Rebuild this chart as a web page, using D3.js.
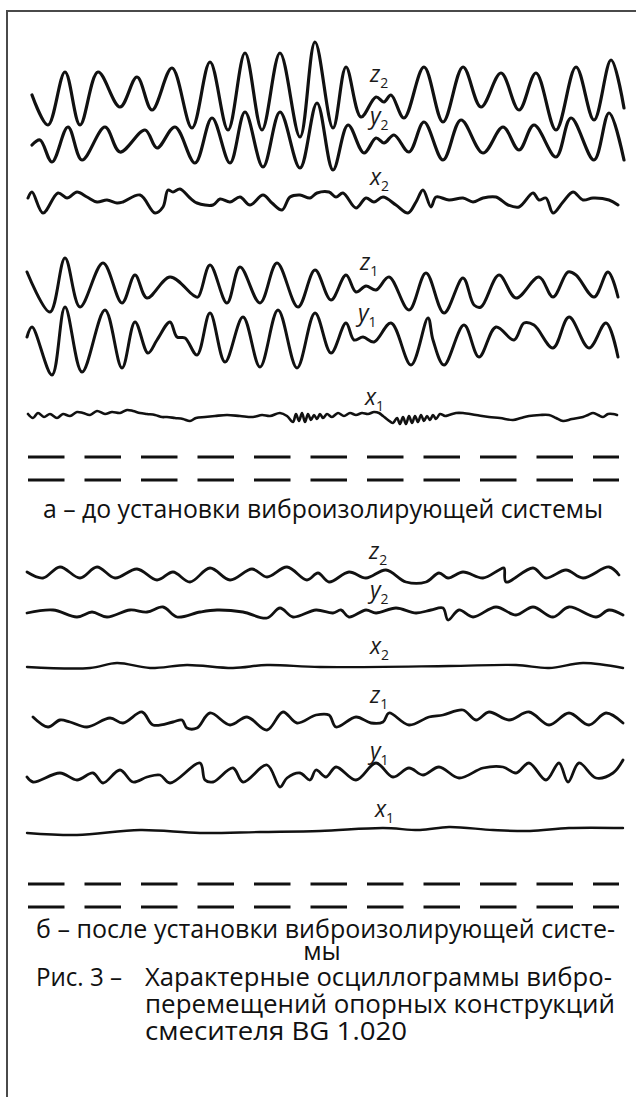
<!DOCTYPE html>
<html>
<head>
<meta charset="utf-8">
<script src="https://cdn.jsdelivr.net/npm/d3@7"></script>
<style>
  html, body { margin: 0; padding: 0; background: #fff; }
  svg { display: block; }
</style>
</head>
<body>
<div id="chart"></div>
<script>
// Oscillogram traces: [time, displacement] (arbitrary units)
// а - before vibration isolation
const z2Before = [[5,0],[21,-30],[38,23],[53,-30],[71,23],[93,-12],[110,18],[125,-15],[145,27],[165,-33],[183,33],[201,-35],[218,42],[235,-35],[253,42],[273,-42],[288,53],[306,-33],[319,28],[334,-22],[349,-2],[357,-7],[364,0],[377,-23],[397,28],[416,-27],[436,28],[454,-12],[474,22],[492,-15],[509,22],[529,-35],[549,28],[567,-25],[584,35],[597,-13]];
const y2Before = [[5,-5],[13,0],[25,-22],[41,13],[55,-20],[78,13],[93,-12],[118,10],[130,-8],[148,13],[168,-23],[185,22],[203,-23],[218,28],[236,-27],[253,28],[273,-28],[290,37],[306,-30],[321,15],[337,-13],[349,2],[357,-3],[367,5],[382,-12],[397,18],[416,-20],[434,20],[456,-13],[476,13],[492,-10],[507,15],[529,-17],[544,22],[567,-20],[582,27],[597,-20]];
const x2Before = [[1,2],[5,8],[16,-13],[31,7],[40,2],[50,8],[60,3],[70,-2],[80,0],[90,-3],[96,-2],[113,5],[128,-13],[136,-7],[141,10],[146,8],[153,11],[163,2],[170,-3],[186,-5],[193,1],[203,-2],[213,3],[223,-5],[236,5],[245,-3],[255,-10],[263,3],[273,5],[283,2],[290,7],[302,8],[309,3],[316,7],[329,-8],[339,2],[347,-2],[356,3],[369,-5],[381,-13],[389,-2],[396,10],[404,-7],[409,3],[422,0],[436,2],[446,-2],[456,2],[469,3],[481,-5],[492,-7],[506,7],[512,0],[519,2],[526,-13],[536,-2],[546,8],[556,0],[566,2],[582,0],[591,-5]];
const z1Before = [[0,13],[23,-27],[38,27],[53,-22],[76,22],[95,-18],[108,10],[120,-13],[143,8],[166,-10],[171,-12],[183,20],[200,-18],[213,18],[233,-18],[250,22],[271,-22],[288,15],[304,-15],[319,10],[329,-7],[339,-1],[349,-5],[362,8],[382,-25],[399,12],[417,-28],[436,7],[447,-20],[454,-22],[472,10],[489,-13],[512,8],[526,-12],[541,13],[549,10],[567,-12],[581,13],[591,-12]];
const y1Before = [[0,3],[5,13],[25,-35],[38,33],[55,-32],[78,30],[95,-28],[108,18],[121,-13],[130,0],[143,18],[150,3],[158,2],[170,-15],[183,27],[198,-22],[216,23],[233,-27],[251,30],[270,-28],[288,27],[304,-13],[319,17],[327,0],[336,3],[347,-2],[364,17],[384,-25],[401,22],[406,0],[417,-25],[437,15],[452,-17],[469,13],[487,0],[497,17],[507,15],[526,-8],[542,23],[562,-8],[579,17],[591,-17]];
const x1Before = [[1,2],[6,-2],[11,3],[17,-1],[23,2],[30,-2],[36,2],[43,0],[50,4],[56,3],[63,1],[70,5],[78,2],[85,4],[93,3],[100,6],[106,5],[113,3],[120,2],[128,1],[135,-1],[140,-1],[148,-2],[156,-3],[163,-5],[169,-2],[178,-1],[188,0],[200,1],[213,0],[226,-1],[235,1],[243,0],[253,3],[260,0],[266,-6],[269,2],[272,-5],[275,3],[278,-6],[281,2],[284,-4],[287,1],[290,-3],[293,2],[296,-2],[300,2],[305,-1],[311,3],[317,0],[323,3],[329,1],[335,3],[341,2],[347,4],[352,3],[356,0],[361,-4],[366,-7],[370,-2],[373,-8],[376,-1],[379,-8],[382,0],[385,-7],[388,0],[391,-6],[394,1],[397,-5],[400,0],[403,-4],[406,1],[409,-3],[413,2],[418,0],[422,1],[429,3],[436,3],[449,1],[462,-1],[473,-2],[486,-4],[494,-2],[502,0],[513,1],[522,1],[529,-2],[536,-5],[545,-3],[556,-1],[561,1],[566,3],[571,1],[576,-1],[581,2],[586,2],[590,1]];

// б - after vibration isolation
const z2After = [[0,3],[16,-3],[33,8],[53,-3],[70,8],[88,-3],[110,6],[130,-5],[146,3],[163,-7],[183,7],[203,-5],[225,6],[240,-2],[260,8],[280,-5],[291,2],[302,-7],[322,3],[339,-3],[359,5],[379,-7],[399,-7],[412,2],[421,-3],[436,3],[456,-3],[472,5],[477,7],[479,-7],[506,7],[519,-3],[539,5],[556,-3],[582,8],[592,0]];
const y2After = [[0,-1],[26,2],[50,-5],[65,0],[80,-5],[103,2],[120,0],[136,5],[150,-5],[173,0],[190,2],[216,0],[240,-6],[253,4],[266,-5],[289,2],[306,-1],[314,2],[322,-5],[339,2],[349,-1],[369,4],[389,-1],[404,2],[416,4],[421,-8],[432,2],[446,-5],[469,5],[489,-3],[506,5],[526,-5],[542,5],[569,-5],[582,2],[596,-3]];
const x2After = [[0,-1],[63,-2],[90,3],[123,-2],[160,1],[206,-2],[240,1],[293,-1],[422,0],[489,1],[522,-2],[556,3],[596,-2]];
const z1After = [[6,2],[21,-8],[33,-1],[43,-3],[60,-8],[83,1],[96,-4],[115,7],[126,-6],[146,-3],[155,-1],[160,-9],[170,-9],[183,6],[203,-6],[220,2],[240,-11],[256,7],[270,-4],[289,4],[302,4],[309,-8],[329,2],[344,-4],[356,-3],[362,6],[382,-6],[402,2],[416,4],[436,9],[449,-1],[462,7],[482,-1],[502,7],[522,-6],[542,6],[562,-6],[579,6],[596,-4]];
const y1After = [[0,-2],[6,-7],[33,2],[50,-5],[66,2],[76,-8],[93,5],[106,-7],[120,-2],[133,0],[143,-8],[173,12],[178,-5],[186,-7],[206,7],[216,-7],[240,10],[253,-12],[260,-3],[273,2],[283,-5],[289,5],[299,-2],[309,8],[329,-5],[349,12],[366,-2],[382,7],[396,0],[412,8],[432,-3],[456,7],[476,8],[489,2],[502,12],[519,-5],[532,12],[541,-7],[552,12],[569,-3],[586,2],[596,15]];
const x1After = [[0,-2],[50,-4],[113,1],[173,-2],[233,-1],[293,0],[356,3],[393,1],[422,4],[466,1],[503,0],[542,3],[596,3]];

const axisNames = ["z", "y", "x", "z", "y", "x"];
const sensorIdx = ["2", "2", "2", "1", "1", "1"];

const captionA = "а – до установки виброизолирующей системы";
const captionB = ["б – после установки виброизолирующей систе-", "мы"];
const figLabel = "Рис. 3 –";
const figTitle = ["Характерные осциллограммы вибро-", "перемещений опорных конструкций", "смесителя BG 1.020"];

const width = 636, height = 1097;

const svg = d3.select("#chart").append("svg")
    .attr("width", width)
    .attr("height", height);

// frame (right and bottom edges are cut off in the scan)
svg.append("path")
    .attr("d", `M7,${height} V11 H${width}`)
    .attr("fill", "none")
    .attr("stroke", "#4a4a4a")
    .attr("stroke-width", 2);

const xScale = d3.scaleLinear().domain([0, 600]).range([27, 627]);
const ampScale = d3.scaleLinear().domain([-60, 60]).range([60, -60]);

const line = d3.line()
    .x(d => xScale(d[0]))
    .y(d => ampScale(d[1]))
    .curve(d3.curveCatmullRom.alpha(0.5));

// panel layout: where each trace sits and where its label goes
const panels = [
    {
        traces: [z2Before, y2Before, x2Before, z1Before, y1Before, x1Before],
        base: [95, 140, 200, 285, 340, 416],
        labelX: [370, 370, 370, 360, 358, 365],
        labelY: [82, 124, 185, 270, 321, 405],
        widths: [3.2, 3.2, 3, 3, 3, 2.6],
        dashY: [457, 480]
    },
    {
        traces: [z2After, y2After, x2After, z1After, y1After, x1After],
        base: [575, 612, 666, 719, 775, 831],
        labelX: [369, 370, 370, 370, 370, 375],
        labelY: [559, 598, 654, 703, 759, 817],
        widths: [2.8, 2.8, 2.4, 2.8, 2.8, 2.4],
        dashY: [884, 907]
    }
];

panels.forEach(p => {
    const g = svg.append("g");

    p.traces.forEach((tr, i) => {
        g.append("path")
            .datum(tr)
            .attr("transform", `translate(0, ${p.base[i]})`)
            .attr("d", line)
            .attr("fill", "none")
            .attr("stroke", "#111")
            .attr("stroke-width", p.widths[i])
            .attr("stroke-linejoin", "round")
            .attr("stroke-linecap", "round");

        const t = g.append("text")
            .attr("x", p.labelX[i])
            .attr("y", p.labelY[i])
            .attr("font-family", "'Open Sans', 'DejaVu Sans', sans-serif")
            .attr("font-size", 23)
            .attr("font-style", "italic")
            .attr("fill", "#1a1a1a");
        t.append("tspan").text(axisNames[i]);
        t.append("tspan")
            .attr("dy", 6)
            .attr("font-size", 14)
            .attr("font-style", "normal")
            .text(sensorIdx[i]);
    });

    // time marker dashes
    p.dashY.forEach(y => {
        g.append("line")
            .attr("x1", xScale(1)).attr("x2", xScale(592))
            .attr("y1", y).attr("y2", y)
            .attr("stroke", "#111")
            .attr("stroke-width", 3)
            .attr("stroke-dasharray", "36.5 20");
    });
});

// captions
const font = "'Open Sans', 'Noto Sans', sans-serif";

function addText(str, x, y, anchor, len) {
    const t = svg.append("text")
        .attr("x", x)
        .attr("y", y)
        .attr("text-anchor", anchor)
        .attr("font-family", font)
        .attr("font-size", 25)
        .attr("fill", "#111")
        .text(str);
    if (len) t.attr("textLength", len).attr("lengthAdjust", "spacingAndGlyphs");
    return t;
}

addText(captionA, 43, 518, "start", 560);
addText(captionB[0], 36, 938, "start", 579);
addText(captionB[1], 322, 960, "middle");
addText(figLabel, 36, 986, "start", 86);
addText(figTitle[0], 145, 986, "start", 467);
addText(figTitle[1], 145, 1013, "start", 470);
addText(figTitle[2], 145, 1040, "start", 262);
</script>
</body>
</html>
